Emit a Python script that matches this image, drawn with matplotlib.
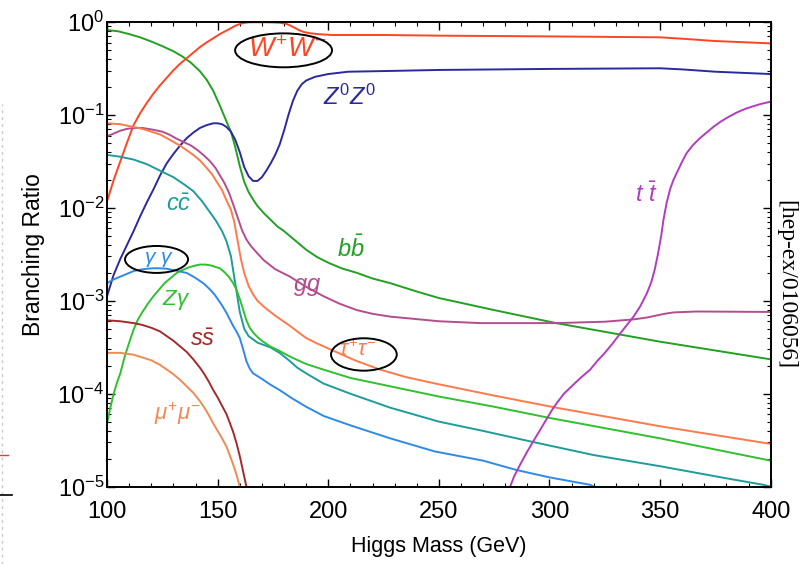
import numpy as np
import matplotlib
matplotlib.use("Agg")
import matplotlib.pyplot as plt
from matplotlib.patches import Ellipse
from matplotlib.lines import Line2D

plt.rcParams['font.family'] = ['Liberation Sans', 'DejaVu Sans']
plt.rcParams['mathtext.fontset'] = 'custom'
plt.rcParams['mathtext.rm'] = 'Liberation Sans'
plt.rcParams['mathtext.it'] = 'Liberation Sans:italic'
plt.rcParams['mathtext.bf'] = 'Liberation Sans:bold'

# Higgs branching ratios, stored as log10(BR) versus Higgs mass (GeV)
ww_m = [100, 103, 106, 109, 112, 115, 118, 121, 124, 127, 130, 133, 136, 139, 142, 145, 148, 151, 155, 158, 161, 164,
        172, 178, 181, 183, 185, 187, 189, 192, 196, 202, 225, 250, 300, 350, 360, 375, 400]
ww_lg = [-1.93, -1.7, -1.5, -1.3, -1.11, -0.98, -0.87, -0.77, -0.68, -0.6, -0.52, -0.45, -0.39, -0.33, -0.27, -0.22, -0.175, -0.13, -0.08, -0.04, -0.014, -0.003,
         -0.003, -0.008, -0.02, -0.04, -0.065, -0.09, -0.108, -0.122, -0.132, -0.14, -0.14, -0.147, -0.155, -0.165, -0.18, -0.205, -0.23]

zz_m = [100, 103, 106, 109, 112, 115, 118, 121, 124, 127, 130, 133, 136, 139, 142, 145, 148, 150, 152, 154, 156, 158, 160, 162, 164, 166, 168,
        170, 172, 174, 176, 178, 180, 182, 184, 186, 188, 190, 194, 200, 209, 225, 250, 300, 350, 360, 375, 400]
zz_lg = [-2.95, -2.72, -2.55, -2.4, -2.25, -2.09, -1.94, -1.8, -1.65, -1.52, -1.42, -1.33, -1.25, -1.19, -1.14, -1.11, -1.09, -1.09, -1.1, -1.13, -1.18, -1.27, -1.4, -1.56, -1.66, -1.71, -1.71,
         -1.67, -1.6, -1.52, -1.43, -1.32, -1.17, -1.0, -0.85, -0.74, -0.67, -0.63, -0.59, -0.56, -0.535, -0.528, -0.516, -0.505, -0.498, -0.51, -0.535, -0.56]

bb_m = [100, 105, 110, 115, 120, 125, 130, 134, 138, 142, 145, 148, 151, 154, 156, 158, 160, 162, 164, 166, 168, 171, 174, 177, 180, 183, 186,
        190, 195, 200, 206, 213, 220, 228, 240, 250, 275, 303, 350, 400]
bb_lg = [-0.086, -0.1, -0.13, -0.165, -0.21, -0.26, -0.315, -0.37, -0.44, -0.53, -0.62, -0.74, -0.9, -1.07, -1.18, -1.35, -1.55, -1.72, -1.83, -1.91, -1.98, -2.06, -2.13, -2.2, -2.25, -2.31, -2.37,
         -2.45, -2.53, -2.59, -2.65, -2.70, -2.76, -2.81, -2.9, -2.97, -3.1, -3.24, -3.44, -3.63]

cc_m = [100, 106, 112, 118, 124, 130, 135, 139, 143, 146, 149, 152, 154, 156, 158, 160, 162, 164, 168, 173.7, 178, 182.7, 186, 190, 197.8,
        210, 228, 250, 270, 292.7, 320, 350, 380, 396.7, 400]
cc_lg = [-1.43, -1.45, -1.48, -1.53, -1.6, -1.67, -1.75, -1.82, -1.93, -2.03, -2.13, -2.25, -2.36, -2.52, -2.82, -3.12, -3.3, -3.38, -3.45, -3.5, -3.56, -3.65, -3.72, -3.78, -3.89,
         -4.0, -4.15, -4.3, -4.4, -4.52, -4.66, -4.78, -4.91, -4.98, -5.0]

gg_m = [100, 103, 106, 109, 112, 116, 121, 125, 128, 131, 134.5, 138, 141, 144, 146.6, 149, 151, 153, 155, 157, 159, 161, 163, 165, 168, 170.7,
        176, 182.7, 190, 197.8, 205, 212.9, 220, 228, 250, 268.6, 303, 325, 338, 344, 348, 352, 356, 366.6, 400]
gg_lg = [-1.23, -1.2, -1.17, -1.15, -1.14, -1.14, -1.16, -1.18, -1.21, -1.25, -1.29, -1.33, -1.38, -1.44, -1.50, -1.57, -1.65, -1.73, -1.83, -1.96, -2.1, -2.24, -2.34, -2.41, -2.49, -2.56,
         -2.66, -2.74, -2.85, -2.95, -3.03, -3.10, -3.14, -3.17, -3.22, -3.24, -3.24, -3.225, -3.20, -3.18, -3.16, -3.14, -3.125, -3.115, -3.12]

tau_m = [100, 106, 112, 116, 120, 124, 127, 130, 133, 136, 139, 142, 145, 147.5, 149.6, 152, 154, 156, 157.5, 159, 160.5, 162, 164, 166, 168,
         170.7, 176, 182.7, 186, 190, 195, 201.6, 212, 223.4, 235, 248.3, 275, 303, 350, 400]
tau_lg = [-1.09, -1.1, -1.13, -1.15, -1.18, -1.21, -1.25, -1.29, -1.33, -1.38, -1.43, -1.49, -1.57, -1.64, -1.72, -1.81, -1.92, -2.02, -2.15, -2.35, -2.55, -2.7, -2.84, -2.93, -3.0,
          -3.06, -3.16, -3.27, -3.33, -3.40, -3.46, -3.53, -3.64, -3.74, -3.82, -3.89, -4.02, -4.15, -4.35, -4.54]

zg_m = [100, 101.5, 103, 104.5, 106, 108, 110, 112, 114, 116, 118.5, 121, 123.5, 126, 129, 131.5, 134, 137, 140, 142, 144.5, 147, 149, 151, 153,
        155, 157, 158.5, 160, 161.6, 163, 164.5, 166, 168, 170, 173.7, 178, 182.7, 190, 197.8, 210, 228, 250, 275, 300, 350, 400]
zg_lg = [-4.32, -4.15, -4.0, -3.88, -3.78, -3.6, -3.45, -3.31, -3.2, -3.12, -3.03, -2.95, -2.88, -2.81, -2.75, -2.70, -2.67, -2.64, -2.62, -2.61, -2.61, -2.62, -2.635, -2.65, -2.69,
         -2.74, -2.81, -2.88, -2.98, -3.10, -3.21, -3.29, -3.34, -3.39, -3.43, -3.49, -3.54, -3.60, -3.68, -3.74, -3.83, -3.92, -4.03, -4.14, -4.26, -4.48, -4.72]

aa_m = [100, 103, 106, 109, 112, 115, 118, 121, 124, 127, 130, 133, 136, 139, 141, 144, 146.6, 148.5, 150, 152, 154, 155.5, 157, 158.5, 160,
        161.5, 163, 164.5, 166, 168, 170, 173.7, 178, 183, 190, 198, 210, 228, 248, 270, 285, 300, 318.4, 320]
aa_lg = [-2.81, -2.77, -2.74, -2.71, -2.68, -2.665, -2.655, -2.65, -2.65, -2.655, -2.67, -2.685, -2.70, -2.74, -2.77, -2.82, -2.88, -2.93, -2.98, -3.05, -3.13, -3.2, -3.27, -3.33, -3.40,
         -3.52, -3.65, -3.73, -3.78, -3.81, -3.84, -3.90, -3.96, -4.04, -4.14, -4.24, -4.34, -4.48, -4.62, -4.72, -4.82, -4.9, -4.98, -5.0]

ss_m = [100, 106, 112, 116, 120, 124, 127, 130, 133, 136, 139, 142, 144, 146, 148, 150, 152, 154, 155.6, 157, 158.5, 160, 161, 162, 163]
ss_lg = [-3.21, -3.22, -3.24, -3.26, -3.29, -3.33, -3.38, -3.43, -3.49, -3.55, -3.63, -3.72, -3.79, -3.87, -3.96, -4.04, -4.13, -4.22, -4.32, -4.41, -4.53, -4.67, -4.78, -4.89, -5.0]

mu_m = [100, 106, 112, 116, 120, 124, 127, 130, 133, 136, 139, 142, 144, 146, 148, 150, 152, 154, 155.6, 157, 158.5, 160]
mu_lg = [-3.56, -3.56, -3.58, -3.61, -3.64, -3.69, -3.74, -3.79, -3.85, -3.92, -3.99, -4.08, -4.15, -4.23, -4.32, -4.40, -4.48, -4.57, -4.67, -4.76, -4.87, -5.0]

tt_m = [282.2, 284, 287, 290, 292.7, 295.5, 298, 301, 303.3, 306.5, 310, 314, 318.4, 321.5, 325, 328.5, 332, 335, 338, 341, 344, 346, 347.5,
        349, 350.5, 351.5, 353, 354.5, 356, 358, 360, 362, 365, 368, 371, 374, 377.5, 381, 385, 389, 395, 400]
tt_lg = [-5.0, -4.89, -4.75, -4.62, -4.51, -4.4, -4.3, -4.18, -4.10, -4.0, -3.92, -3.83, -3.74, -3.65, -3.56, -3.46, -3.35, -3.26, -3.17, -3.06, -2.92, -2.8, -2.67,
         -2.5, -2.3, -2.13, -1.94, -1.8, -1.7, -1.6, -1.5, -1.41, -1.32, -1.25, -1.19, -1.13, -1.07, -1.02, -0.97, -0.93, -0.885, -0.857]

# channel: (mass, log10 BR, colour, label, label mass, label log10 BR, label size)
channels = [
    (bb_m, bb_lg, '#22a022', r'$b\bar{b}$', 210, -2.44, 17),
    (ww_m, ww_lg, '#ff4422', r'$W^{+}W^{-}$', 181.5, -0.30, 19.5),
    (zz_m, zz_lg, '#2a2a9c', r'$Z^{0}Z^{0}$', 209.5, -0.81, 17),
    (cc_m, cc_lg, '#1e9c9c', r'$c\bar{c}$', 132.6, -1.97, 17),
    (gg_m, gg_lg, '#b34d8f', r'$gg$', 190.2, -2.85, 17),
    (tau_m, tau_lg, '#ff7a4a', r'$\tau^{+}\tau^{-}$', 213.2, -3.53, 15.5),
    (zg_m, zg_lg, '#30c030', r'$Z\gamma$', 131.2, -2.99, 16),
    (aa_m, aa_lg, '#2f8ae6', r'$\gamma\ \gamma$', 123.5, -2.56, 15),
    (ss_m, ss_lg, '#a52a2a', r'$s\bar{s}$', 143.2, -3.42, 17),
    (mu_m, mu_lg, '#f08a55', r'$\mu^{+}\mu^{-}$', 131.9, -4.21, 16),
    (tt_m, tt_lg, '#b23cbf', r'$t\ \bar{t}$', 343.7, -1.86, 17),
]

fig = plt.figure(figsize=(8.09, 5.64), dpi=100)
ax = fig.add_axes([0.1323, 0.1371, 0.8204, 0.8239])

for m, lg, col, lab, lx, ly, fs in channels:
    ax.plot(m, 10.0 ** np.array(lg), color=col, lw=1.4, solid_joinstyle='round')
    ax.text(lx, 10.0 ** ly, lab, color=col, fontsize=fs, ha='center', va='center')

ax.set_xlim(100, 400)
ax.set_yscale('log')
ax.set_ylim(1e-5, 1)
ax.set_xticks([100, 150, 200, 250, 300, 350, 400])
ax.set_xticks(np.arange(100, 401, 10), minor=True)
ax.tick_params(which='both', direction='in', top=True, right=True, labelsize=17, colors='black')
ax.tick_params(which='major', length=6, width=1.0)
ax.tick_params(which='minor', length=3, width=0.8)
ax.tick_params(axis='x', pad=10)
ax.tick_params(axis='y', pad=2)
for sp in ax.spines.values():
    sp.set_linewidth(1.4)

ax.set_xlabel('Higgs Mass (GeV)', fontsize=15.5, labelpad=10)
ax.set_ylabel('Branching Ratio', fontsize=16.5, labelpad=9)

# highlighted channels
for cx, cy, w, h in [(0.266, 0.939, 0.146, 0.073),
                     (0.0746, 0.489, 0.095, 0.058),
                     (0.387, 0.2845, 0.099, 0.0697)]:
    ax.add_patch(Ellipse((cx, cy), w, h, transform=ax.transAxes,
                         fill=False, edgecolor='black', lw=1.4, zorder=5))

fig.text(0.971, 0.495, '[hep-ex/0106056]', rotation=270, fontsize=17,
         family='Liberation Serif', ha='center', va='center')

# slide edge marks
fig.add_artist(Line2D([0.003, 0.003], [0.0, 0.815], transform=fig.transFigure,
                      color='#c8c8c8', lw=1.0, ls=(0, (2, 3))))
fig.add_artist(Line2D([0.0, 0.010], [0.193, 0.193], transform=fig.transFigure,
                      color='#e04040', lw=1.0))
fig.add_artist(Line2D([0.0, 0.015], [0.122, 0.122], transform=fig.transFigure,
                      color='black', lw=1.2))

fig.savefig('out.png', dpi=100)
